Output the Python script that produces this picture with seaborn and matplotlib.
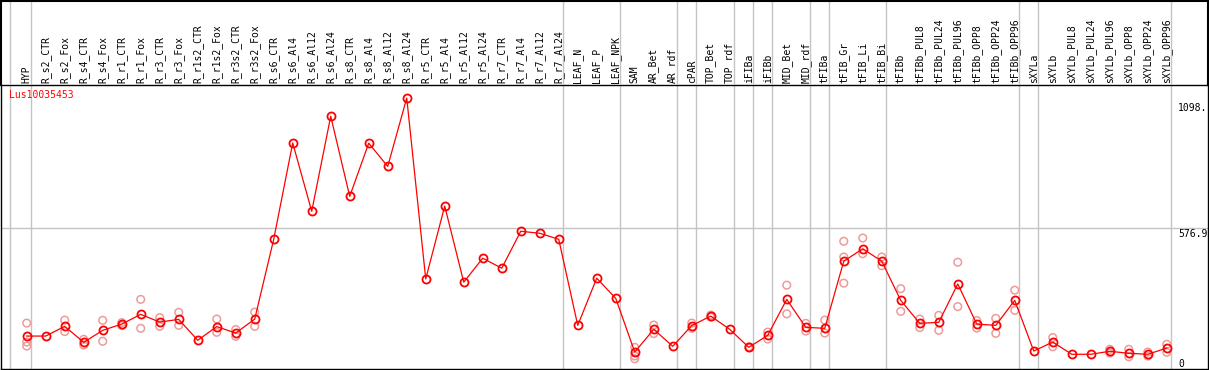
import numpy as np
import pandas as pd
import matplotlib
matplotlib.use("Agg")
import matplotlib.pyplot as plt
import seaborn as sns

# ---------------- data ----------------
categories = [
    "HYP", "R_s2_CTR", "R_s2_Fox", "R_s4_CTR", "R_s4_Fox", "R_r1_CTR", "R_r1_Fox",
    "R_r3_CTR", "R_r3_Fox", "R_r1s2_CTR", "R_r1s2_Fox", "R_r3s2_CTR", "R_r3s2_Fox",
    "R_s6_CTR", "R_s6_Al4", "R_s6_Al12", "R_s6_Al24", "R_s8_CTR", "R_s8_Al4",
    "R_s8_Al12", "R_s8_Al24", "R_r5_CTR", "R_r5_Al4", "R_r5_Al12", "R_r5_Al24",
    "R_r7_CTR", "R_r7_Al4", "R_r7_Al12", "R_r7_Al24", "LEAF_N", "LEAF_P", "LEAF_NPK",
    "SAM", "AR_Bet", "AR_rdf", "cPAR", "TOP_Bet", "TOP_rdf", "iFIBa", "iFIBb",
    "MID_Bet", "MID_rdf", "tFIBa", "tFIB_Gr", "tFIB_Li", "tFIB_Bi", "tFIBb",
    "tFIBb_PUL8", "tFIBb_PUL24", "tFIBb_PUL96", "tFIBb_OPP8", "tFIBb_OPP24",
    "tFIBb_OPP96", "sXYLa", "sXYLb", "sXYLb_PUL8", "sXYLb_PUL24", "sXYLb_PUL96",
    "sXYLb_OPP8", "sXYLb_OPP24", "sXYLb_OPP96",
]

mean_values = [
    144, 144, 183, 119, 167, 192, 231, 200, 211, 127, 182, 156, 212,
    532, 918, 644, 1025, 704, 917, 824, 1098, 373, 665, 360, 456,
    416, 564, 556, 532, 187, 376, 295,
    80, 171, 103, 186, 224, 171, 99, 147, 291, 179, 175,
    444, 494, 444, 287, 195, 199, 353, 192, 187, 287,
    84, 120, 71, 71, 83, 75, 71, 96,
]

nan = np.nan
rep_a = [
    196, nan, 208, 131, 207, 198, 291, 218, 239, nan, 212, 170, 240,
    nan, nan, nan, nan, nan, nan, nan, nan, nan, nan, nan, nan,
    nan, nan, nan, nan, nan, nan, nan,
    99, 188, nan, 196, 228, nan, 101, 160, 348, 195, 208,
    524, 537, 461, 334, 212, 227, 440, 206, 215, 328,
    nan, 138, nan, nan, 91, 91, 80, 111,
]
rep_b = [
    120, nan, 162, 108, 123, 186, 175, 183, 187, nan, 159, 143, 183,
    nan, nan, nan, nan, nan, nan, nan, nan, nan, nan, nan, nan,
    nan, nan, nan, nan, nan, nan, nan,
    64, 154, nan, 175, 220, nan, 97, 132, 233, 164, 156,
    461, 474, 426, 243, 178, 167, 262, 176, 155, 247,
    nan, 101, nan, nan, 76, 61, 64, 79,
]
rep_c = [
    104, nan, nan, nan, nan, nan, nan, nan, nan, nan, nan, nan, nan,
    nan, nan, nan, nan, nan, nan, nan, nan, nan, nan, nan, nan,
    nan, nan, nan, nan, nan, nan, nan,
    53, nan, nan, nan, nan, nan, nan, nan, nan, nan, nan,
    356, nan, nan, nan, nan, nan, nan, nan, nan, nan,
    nan, nan, nan, nan, nan, nan, nan, nan,
]

# separators drawn after these category indices
separators_after = [0, 28, 31, 34, 35, 37, 38, 39, 41, 42, 45, 52, 53, 60]
y_tick_values = [1098, 576.9, 0]
y_tick_labels = ["1098.", "576.9", "0"]
gene_id = "Lus10035453"

# ---------------- build frames ----------------
pos = np.arange(len(categories))
df_mean = pd.DataFrame({"pos": pos, "category": categories, "value": mean_values})
df_rep = pd.DataFrame({
    "pos": np.concatenate([pos, pos, pos]),
    "value": np.concatenate([rep_a, rep_b, rep_c]),
}).dropna()

# ---------------- figure ----------------
W, H = 1209, 370
fig = plt.figure(figsize=(W / 100, H / 100), dpi=100)
fig.patch.set_facecolor("white")

mono = "DejaVu Sans Mono"
grid_c = "#c4c4c4"
red = "#ff0000"
rep_c_col = "#ee9a9a"

ax = fig.add_axes([1 / W, 1 / H, 1207 / W, 284 / H])
hdr = fig.add_axes([1 / W, 285 / H, 1207 / W, 84.5 / H])
hdr.set_facecolor("none")

xlim = (-1.353, 62.17)
ax.set_xlim(*xlim)
ax.set_ylim(12.0, 1150.3)
hdr.set_xlim(*xlim)
hdr.set_ylim(0, 1)

# grid / separators
ax.axhline(576.9, color=grid_c, lw=1.0, zorder=0)
sep_x = [-0.88] + [s + 0.22 for s in separators_after]
for sx in sep_x:
    ax.axvline(sx, color=grid_c, lw=1.0, zorder=0)
    hdr.axvline(sx, color=grid_c, lw=1.0, zorder=0)

# replicates
sns.scatterplot(data=df_rep, x="pos", y="value", ax=ax, marker="o", s=30,
                color=rep_c_col, facecolors="none", edgecolor=rep_c_col,
                linewidth=1.1, zorder=2, legend=False)

# means
sns.lineplot(data=df_mean, x="pos", y="value", ax=ax, color=red, lw=0.9,
             marker="o", ms=5.8, mfc="none", mec=red, mew=1.3, zorder=3)

# axes cosmetics
ax.set_xlabel("")
ax.set_ylabel("")
ax.set_yticks([])
ax.set_xticks(pos)
ax.set_xticklabels(categories, rotation=90, fontsize=7, family=mono)
ax.xaxis.tick_top()
ax.tick_params(axis="x", length=0, pad=1.5)
for sp in ax.spines.values():
    sp.set_color("black")
    sp.set_linewidth(1.0)

hdr.set_xticks([])
hdr.set_yticks([])
hdr.spines["bottom"].set_visible(False)
for k in ["top", "left", "right"]:
    hdr.spines[k].set_color("black")
    hdr.spines[k].set_linewidth(1.5)

# gene id
ax.text(8 / 1207, 1 - 5.5 / 284, gene_id, transform=ax.transAxes, color=red,
        va="top", ha="left", fontsize=7, family=mono)

# y value labels at right
y_offsets = [-5, -1, 13]
for v, lab, off in zip(y_tick_values, y_tick_labels, y_offsets):
    ax.annotate(lab, xy=(1, v), xycoords=("axes fraction", "data"),
                xytext=(-30, off), textcoords="offset pixels",
                va="top", ha="left", fontsize=7, family=mono, color="black",
                annotation_clip=False)

fig.savefig("out.png", dpi=100, facecolor="white")
